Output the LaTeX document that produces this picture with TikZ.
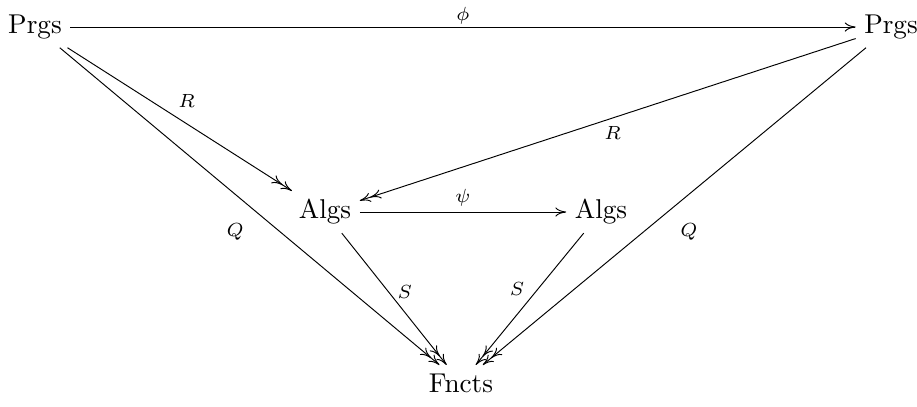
\documentclass[tikz,border=0pt]{standalone}
\usetikzlibrary{positioning,arrows.meta}
\begin{document}
\begin{tikzpicture}[x=0.3676pt,y=-0.3676pt,
  line width=0.35pt,
  obj/.style={inner sep=3pt},
  lbl/.style={font=\scriptsize, inner sep=2pt},
  mono/.style={-{To[length=4pt,width=3.4pt]}},
  epi/.style={-{To[length=4pt,width=3.4pt]To[length=4pt,width=3.4pt]}}]
\useasboundingbox (0,0) rectangle (917,406);
\node[obj] (P1) at (35,27) {Prgs};
\node[obj] (P2) at (891,27) {Prgs};
\node[obj] (A1) at (325,212) {Algs};
\node[obj] (A2) at (601,212) {Algs};
\node[obj] (F) at (461,383) {Fncts};
\draw[mono] (P1) -- node[lbl, above=-1pt] {$\phi$} (P2);
\draw[mono] (A1) -- node[lbl, above=0pt] {$\psi$} (A2);
\draw[epi] (P1) -- node[lbl, pos=0.48, above right=1pt and -1pt] {$R$} (A1);
\draw[epi] (P2) -- node[lbl, pos=0.49, below=1pt] {$R$} (A1);
\draw[epi] (P1) -- node[lbl, pos=0.5, below left=4pt and 0pt] {$Q$} (F);
\draw[epi] (P2) -- node[lbl, pos=0.5, below right=4pt and 0pt] {$Q$} (F);
\draw[epi] (A1) -- node[lbl, pos=0.45, right=1pt] {$S$} (F);
\draw[epi] (A2) -- node[lbl, pos=0.42, left=3pt] {$S$} (F);
\end{tikzpicture}
\end{document}
